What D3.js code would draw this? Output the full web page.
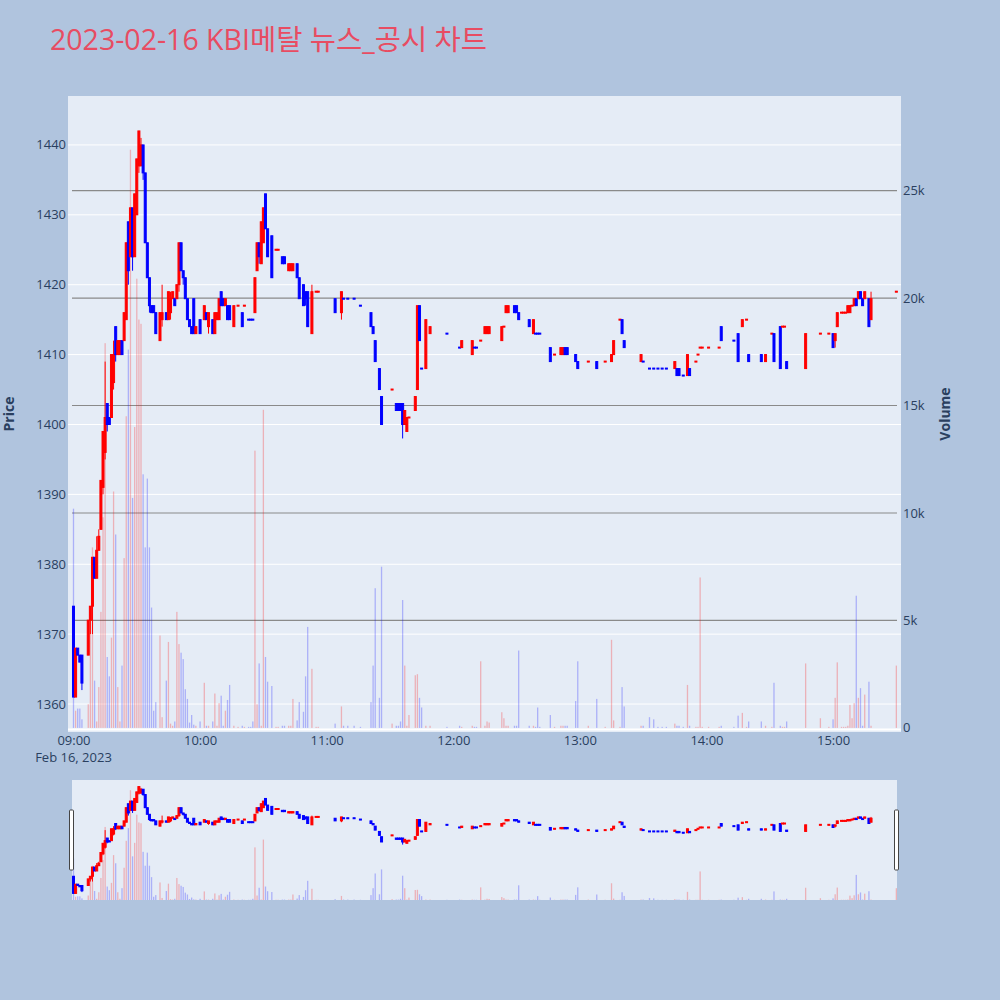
<!DOCTYPE html>
<html>
<head>
<meta charset="utf-8">
<script src="https://cdn.jsdelivr.net/npm/d3@7"></script>
<style>
  body { margin: 0; background: #b0c4de; }
  text { font-family: "Open Sans", "Noto Sans CJK KR", sans-serif; }
</style>
</head>
<body>
<div id="chart"></div>
<script>
// minute offset from 09:00, OHLC and volume per candle
const minutes = [0,1,2,3,4,7,8,9,10,11,12,13,14,15,16,17,18,19,20,21,22,23,24,25,26,27,28,29,30,31,32,33,34,35,36,37,38,39,41,42,44,45,46,47,48,49,50,51,52,53,54,55,56,57,58,60,62,63,64,66,67,68,69,70,71,72,73,74,76,78,80,81,83,84,85,86,87,88,89,90,91,92,94,96,97,99,100,102,103,104,106,107,109,110,111,113,115,116,124,127,128,130,133,136,141,142,143,145,146,151,153,154,155,156,157,158,159,162,163,164,165,167,169,177,183,184,189,190,191,193,195,196,197,203,204,205,206,209,210,211,216,218,219,220,221,226,228,231,232,233,234,238,239,244,248,252,255,256,259,260,261,269,270,273,275,277,279,281,285,286,287,289,291,292,295,296,297,298,301,306,307,313,315,317,319,320,326,328,331,332,335,336,337,338,347,354,358,360,361,362,364,365,366,367,368,369,370,371,372,373,374,375,377,378,390];
const opens = [1374,1361,1368,1367,1367,1367,1372,1374,1381,1378,1382,1385,1391,1396,1403,1401,1401,1406,1414,1410,1410,1412,1412,1415,1429,1424,1431,1424,1430,1437,1437,1440,1436,1426,1421,1417,1417,1416,1412,1415,1416,1415,1416,1418,1418,1418,1420,1426,1422,1421,1418,1415,1414,1418,1413,1415,1415,1416,1414,1415,1413,1415,1415,1419,1418,1417,1417,1417,1414,1417,1416,1417,1415,1415,1415,1416,1422,1426,1423,1426,1433,1428,1427,1425,1425,1424,1424,1422,1422,1422,1423,1421,1420,1419,1419,1413,1419,1419,1418,1416,1418,1418,1418,1417,1416,1414,1412,1408,1404,1405,1403,1403,1403,1403,1400,1399,1401,1402,1405,1417,1408,1408,1413,1413,1411,1411,1410,1411,1411,1412,1413,1413,1413,1412,1414,1416,1416,1417,1417,1416,1415,1413,1413,1413,1413,1411,1410,1410,1410,1411,1411,1410,1409,1409,1409,1409,1409,1410,1415,1415,1412,1409,1409,1408,1408,1408,1408,1408,1408,1408,1408,1407,1407,1408,1409,1410,1411,1411,1411,1411,1414,1412,1413,1414,1415,1410,1410,1409,1413,1413,1414,1414,1414,1409,1408,1413,1413,1413,1412,1414,1416,1416,1416,1416,1416,1417,1417,1418,1418,1419,1418,1418,1418,1415,1419];
const highs = [1374,1368,1368,1367,1367,1372,1374,1381,1381,1384,1385,1392,1399,1409,1403,1401,1410,1412,1414,1412,1412,1412,1416,1426,1429,1431,1431,1433,1438,1442,1441,1440,1436,1426,1421,1417,1417,1416,1416,1420,1416,1419,1419,1419,1418,1420,1426,1426,1422,1421,1418,1415,1414,1418,1414,1415,1417,1416,1416,1415,1416,1416,1418,1419,1418,1418,1417,1417,1417,1417,1416,1417,1415,1415,1415,1421,1426,1426,1429,1431,1433,1428,1427,1425,1425,1424,1424,1423,1423,1423,1423,1421,1420,1419,1419,1420,1419,1419,1418,1419,1418,1418,1418,1417,1416,1414,1412,1408,1404,1405,1403,1403,1403,1403,1402,1401,1401,1404,1417,1417,1408,1415,1414,1413,1411,1412,1412,1411,1411,1412,1414,1414,1414,1414,1414,1417,1417,1417,1417,1416,1415,1415,1413,1413,1413,1411,1410,1411,1411,1411,1411,1410,1409,1409,1409,1409,1410,1412,1415,1415,1412,1410,1409,1408,1408,1408,1408,1408,1409,1408,1408,1407,1410,1408,1409,1410,1411,1411,1411,1411,1414,1412,1413,1415,1415,1410,1410,1410,1413,1413,1414,1414,1414,1409,1413,1413,1413,1413,1413,1416,1416,1416,1416,1417,1417,1417,1418,1418,1419,1419,1418,1419,1418,1419,1419];
const lows = [1361,1361,1367,1366,1362,1367,1370,1370,1378,1378,1382,1385,1390,1395,1399,1400,1401,1405,1409,1410,1410,1410,1412,1415,1420,1424,1422,1424,1430,1436,1437,1435,1426,1421,1416,1416,1416,1413,1412,1414,1415,1415,1415,1418,1417,1418,1419,1422,1420,1418,1415,1414,1413,1413,1413,1413,1415,1415,1413,1413,1413,1415,1415,1417,1417,1417,1415,1415,1414,1417,1414,1417,1415,1415,1415,1416,1422,1423,1423,1426,1428,1424,1421,1425,1425,1423,1423,1422,1422,1422,1421,1418,1417,1417,1414,1413,1419,1419,1416,1415,1418,1418,1418,1417,1414,1413,1409,1405,1400,1405,1402,1402,1402,1398,1400,1399,1401,1402,1405,1412,1408,1408,1413,1413,1411,1411,1410,1411,1411,1412,1413,1413,1413,1412,1414,1416,1416,1416,1416,1415,1414,1413,1413,1413,1413,1409,1410,1410,1410,1410,1410,1409,1408,1409,1408,1409,1409,1410,1415,1413,1411,1409,1409,1408,1408,1408,1408,1408,1408,1407,1407,1407,1407,1407,1409,1410,1411,1411,1411,1411,1412,1412,1409,1414,1415,1409,1409,1409,1413,1409,1408,1414,1414,1408,1408,1413,1413,1411,1411,1414,1416,1416,1416,1416,1416,1417,1417,1417,1418,1418,1417,1418,1414,1415,1419];
const closes = [1361,1368,1367,1366,1363,1372,1374,1381,1378,1382,1384,1392,1399,1401,1400,1400,1410,1410,1410,1412,1412,1410,1416,1426,1422,1431,1424,1433,1438,1442,1440,1436,1426,1421,1417,1416,1416,1413,1416,1416,1415,1419,1418,1419,1417,1420,1426,1422,1421,1418,1415,1414,1413,1413,1414,1413,1417,1415,1416,1413,1416,1416,1418,1417,1417,1418,1415,1415,1417,1417,1414,1417,1415,1415,1415,1421,1426,1424,1429,1431,1428,1424,1421,1425,1425,1423,1423,1423,1423,1423,1421,1418,1417,1418,1414,1419,1419,1419,1416,1419,1418,1418,1418,1417,1414,1413,1409,1405,1400,1405,1402,1402,1402,1400,1402,1401,1401,1404,1417,1412,1408,1415,1414,1413,1411,1412,1412,1411,1411,1412,1414,1414,1414,1414,1414,1417,1417,1416,1416,1415,1414,1415,1413,1413,1413,1409,1410,1411,1411,1410,1410,1409,1408,1409,1408,1409,1410,1412,1415,1413,1411,1410,1409,1408,1408,1408,1408,1408,1409,1407,1407,1407,1410,1407,1409,1410,1411,1411,1411,1411,1412,1412,1409,1415,1415,1409,1409,1410,1413,1409,1408,1414,1414,1408,1413,1413,1413,1411,1413,1416,1416,1416,1416,1417,1417,1417,1418,1417,1419,1418,1417,1419,1414,1418,1419];
const volumes = [10200,800,900,900,400,1100,5400,8400,2200,300,1900,5400,9800,17900,3300,2400,4200,11000,9000,1900,300,2900,7900,14500,17600,26900,10700,14000,20900,19000,18800,11800,8400,11600,8400,5600,800,1200,4300,500,2200,4000,200,100,300,5400,3900,3500,3200,1800,1350,250,600,150,100,300,2100,100,100,300,1600,100,1150,1500,100,800,1300,2000,100,50,100,50,50,50,300,12900,1100,3000,100,14800,3300,2150,1950,50,50,100,100,100,100,1350,350,1200,750,2400,4700,2750,50,50,200,1000,100,100,100,50,1200,2900,6500,1400,7500,200,100,100,300,5950,2900,100,600,2450,2500,1400,950,100,100,50,100,50,100,50,50,3100,100,300,250,730,450,100,100,100,100,3600,100,100,50,950,50,600,50,100,100,100,100,1250,3100,100,1350,50,4100,350,50,1900,1000,100,100,500,400,50,50,50,200,100,100,50,2000,100,50,50,7000,50,50,50,100,50,570,700,50,300,300,100,50,2100,100,50,50,300,3000,450,50,400,1400,3050,50,50,50,100,1070,450,1150,6150,1400,1850,100,1550,2150,100,2900];

const priceTicks = [1360, 1370, 1380, 1390, 1400, 1410, 1420, 1430, 1440];
const volumeTicks = [0, 5000, 10000, 15000, 20000, 25000];
const volumeTickLabels = ['0', '5k', '10k', '15k', '20k', '25k'];

const width = 1000, height = 1000;
const plot = { left: 68, right: 901, top: 96, bottom: 732 };
const slider = { left: 72, right: 897, top: 780, bottom: 900 };
const incColor = '#ff0000', decColor = '#0000ff';
const tickColor = '#2a3f5f';

const svg = d3.select('#chart').append('svg')
  .attr('width', width)
  .attr('height', height)
  .style('background', '#b0c4de');

// time scale: 09:00 tick sits where the first candle is
const base = new Date(2023, 1, 16, 9, 0);
const toDate = m => new Date(base.getTime() + m * 60000);
const x = d3.scaleTime()
  .domain([toDate(-2.6), toDate(392.2)])
  .range([plot.left, plot.right]);

const yPrice = d3.scaleLinear().domain([1356, 1447]).range([plot.bottom, plot.top]);
const yVol = d3.scaleLinear().domain([-190, 29400]).range([plot.bottom, plot.top]);
const yPriceMini = d3.scaleLinear().domain([1356, 1447]).range([slider.bottom, slider.top]);
const yVolMini = d3.scaleLinear().domain([0, 29400]).range([slider.bottom, slider.top]);

// candle direction like plotly: equal open/close takes direction from previous close
let prevClose = null, prevDir = 'dec';
const candles = minutes.map((m, i) => {
  const o = opens[i], c = closes[i];
  let dir;
  if (c > o) dir = 'inc';
  else if (c < o) dir = 'dec';
  else if (prevClose !== null && c > prevClose) dir = 'inc';
  else if (prevClose !== null && c < prevClose) dir = 'dec';
  else dir = prevDir;
  prevDir = dir; prevClose = c;
  return { t: toDate(m), o, h: highs[i], l: lows[i], c, v: volumes[i], dir };
});

// plot background
svg.append('rect')
  .attr('x', plot.left).attr('y', plot.top)
  .attr('width', plot.right - plot.left).attr('height', plot.bottom - plot.top)
  .attr('fill', '#e5ecf6');

// price grid (white)
svg.append('g').selectAll('line')
  .data(priceTicks)
  .join('line')
  .attr('x1', plot.left).attr('x2', plot.right)
  .attr('y1', d => yPrice(d)).attr('y2', d => yPrice(d))
  .attr('stroke', '#ffffff').attr('stroke-width', 1);

// volume zero line
svg.append('line')
  .attr('x1', plot.left).attr('x2', plot.right)
  .attr('y1', yVol(0) + 1.5).attr('y2', yVol(0) + 1.5)
  .attr('stroke', '#ffffff').attr('stroke-width', 2);

// volume grid (gray)
svg.append('g').selectAll('line')
  .data(volumeTicks.filter(d => d > 0))
  .join('line')
  .attr('x1', plot.left + 4).attr('x2', plot.right - 4)
  .attr('y1', d => yVol(d)).attr('y2', d => yVol(d))
  .attr('stroke', '#8a8a8a').attr('stroke-width', 1.2);

function drawVolume(g, yv, barW) {
  g.selectAll('rect.vol')
    .data(candles)
    .join('rect')
    .attr('class', 'vol')
    .attr('x', d => x(d.t) - barW / 2)
    .attr('width', barW)
    .attr('y', d => yv(d.v))
    .attr('height', d => Math.max(0, yv(0) - yv(d.v)))
    .attr('fill', d => d.dir === 'inc' ? 'rgba(255,0,0,0.25)' : 'rgba(0,0,255,0.25)');
}

function drawCandles(g, yp) {
  const item = g.selectAll('g.candle')
    .data(candles)
    .join('g')
    .attr('class', 'candle');
  item.append('line')
    .attr('x1', d => x(d.t)).attr('x2', d => x(d.t))
    .attr('y1', d => yp(d.h)).attr('y2', d => yp(d.l))
    .attr('stroke', d => d.dir === 'inc' ? incColor : decColor)
    .attr('stroke-width', 1);
  item.append('rect')
    .attr('x', d => x(d.t) - 1)
    .attr('width', 2)
    .attr('y', d => {
      const top = yp(Math.max(d.o, d.c)), hgt = Math.abs(yp(d.o) - yp(d.c));
      return hgt < 1 ? top - 0.5 : top;
    })
    .attr('height', d => Math.max(1, Math.abs(yp(d.o) - yp(d.c))))
    .attr('fill', d => d.dir === 'inc' ? incColor : decColor)
    .attr('stroke', d => d.dir === 'inc' ? incColor : decColor)
    .attr('stroke-width', 1);
}

drawVolume(svg.append('g'), yVol, 1.3);
drawCandles(svg.append('g'), yPrice);

// left price ticks
svg.append('g').selectAll('text')
  .data(priceTicks)
  .join('text')
  .attr('x', plot.left - 2)
  .attr('y', d => yPrice(d))
  .attr('dy', '0.35em')
  .attr('text-anchor', 'end')
  .attr('font-size', 13)
  .attr('fill', tickColor)
  .text(d => d);

// right volume ticks
svg.append('g').selectAll('text')
  .data(volumeTicks)
  .join('text')
  .attr('x', plot.right + 2)
  .attr('y', d => yVol(d))
  .attr('dy', '0.35em')
  .attr('text-anchor', 'start')
  .attr('font-size', 13)
  .attr('fill', tickColor)
  .text((d, i) => volumeTickLabels[i]);

// time axis
const xAxis = d3.axisBottom(x)
  .ticks(d3.timeHour.every(1))
  .tickFormat(d3.timeFormat('%H:%M'))
  .tickSize(0)
  .tickPadding(0);
const xg = svg.append('g')
  .attr('transform', `translate(0, ${plot.bottom + 4})`)
  .call(xAxis);
xg.select('.domain').remove();
xg.selectAll('text')
  .attr('font-size', 13)
  .attr('fill', tickColor)
  .attr('font-family', '"Open Sans", sans-serif');
svg.append('text')
  .attr('x', x(base))
  .attr('y', plot.bottom + 30)
  .attr('text-anchor', 'middle')
  .attr('font-size', 13)
  .attr('fill', tickColor)
  .text(d3.timeFormat('%b %-d, %Y')(base));

// axis titles
svg.append('text')
  .attr('transform', `translate(14, ${(plot.top + plot.bottom) / 2}) rotate(-90)`)
  .attr('text-anchor', 'middle')
  .attr('font-size', 14)
  .attr('font-weight', 'bold')
  .attr('fill', tickColor)
  .text('Price');
svg.append('text')
  .attr('transform', `translate(950, ${(plot.top + plot.bottom) / 2}) rotate(-90)`)
  .attr('text-anchor', 'middle')
  .attr('font-size', 14)
  .attr('font-weight', 'bold')
  .attr('fill', tickColor)
  .text('Volume');

// title
svg.append('text')
  .attr('x', 50)
  .attr('y', 50)
  .attr('font-size', 28.5)
  .attr('fill', '#e84c62')
  .text('2023-02-16 KBI메탈 뉴스_공시 차트');

// range slider
svg.append('clipPath').attr('id', 'slider-clip')
  .append('rect')
  .attr('x', slider.left).attr('y', slider.top)
  .attr('width', slider.right - slider.left).attr('height', slider.bottom - slider.top);
svg.append('rect')
  .attr('x', slider.left).attr('y', slider.top)
  .attr('width', slider.right - slider.left).attr('height', slider.bottom - slider.top)
  .attr('fill', '#e5ecf6');
const mini = svg.append('g').attr('clip-path', 'url(#slider-clip)');
drawVolume(mini.append('g'), yVolMini, 1.3);
drawCandles(mini.append('g'), yPriceMini);

[slider.left - 2, slider.right - 2].forEach(gx => {
  svg.append('rect')
    .attr('x', gx - 0.5).attr('y', slider.top + 30)
    .attr('width', 4).attr('height', 60)
    .attr('rx', 1)
    .attr('fill', '#ffffff')
    .attr('stroke', '#444')
    .attr('stroke-width', 1);
});
</script>
</body>
</html>
